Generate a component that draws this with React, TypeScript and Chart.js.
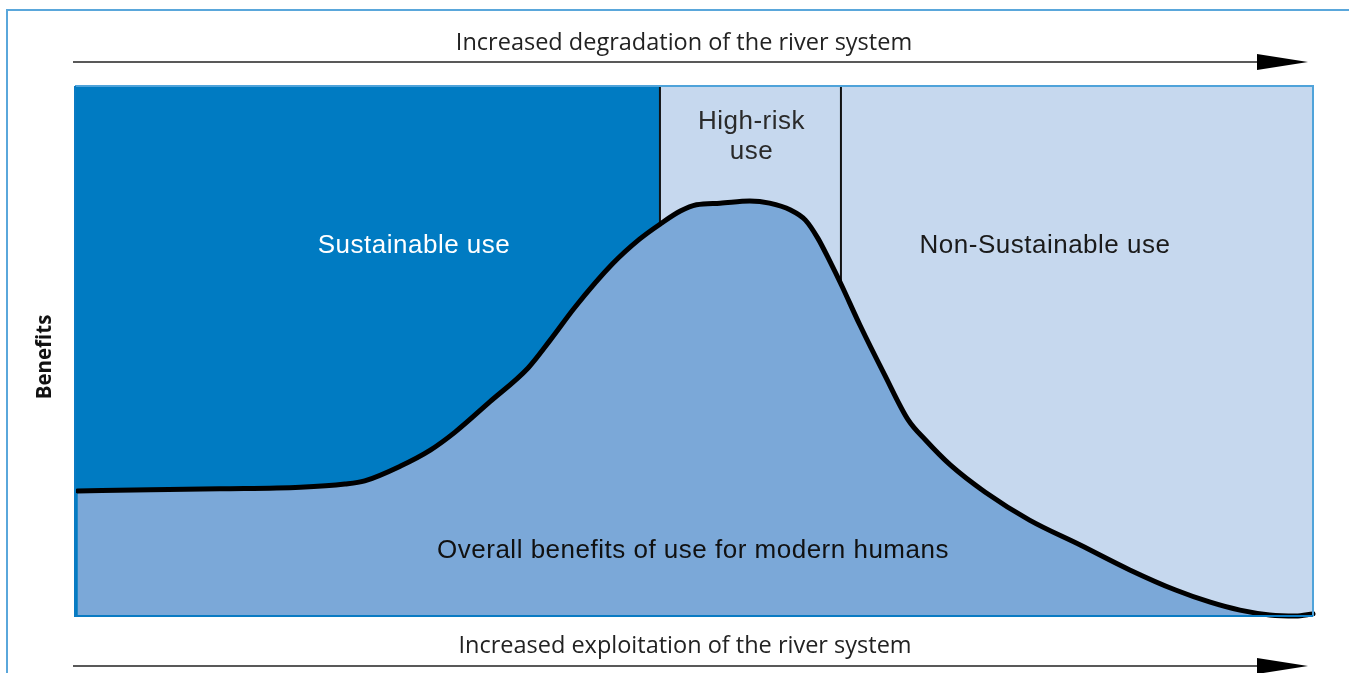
import React, { useEffect, useRef } from "react";
import { Chart, registerables } from "chart.js";

Chart.register(...registerables);

// Curve: x = position along exploitation axis (0-100), y = benefits (0-100)
const curveX = [0.2, 6.1, 11.7, 18.2, 21.8, 23.4, 26.3, 28.7, 30.7, 33.5, 36.6, 38.4, 40.4, 43.4, 45.6, 47.3, 48.9, 50.2, 52.1, 54.5, 56.1, 57.8, 59.0, 60.0, 61.0, 61.9, 63.4, 65.4, 67.3, 68.7, 70.7, 73.5, 77.1, 81.2, 85.2, 88.9, 91.7, 94.1, 96.5, 98.6, 100];
const curveY = [23.6, 23.8, 24.0, 24.3, 24.9, 25.5, 28.3, 31.3, 34.7, 40.4, 46.8, 52.1, 58.3, 66.4, 71.1, 74.0, 76.4, 77.6, 77.9, 78.3, 77.9, 76.6, 74.7, 71.3, 66.8, 62.5, 54.9, 45.5, 37.0, 33.2, 28.5, 23.4, 18.1, 13.4, 8.7, 4.9, 2.6, 1.1, 0.2, 0.0, 0.4];

// Region boundaries along the x axis
const regionBounds = [47.25, 61.87];
const regionNames = ["Sustainable use", "High-risk use", "Non-Sustainable use"];

const topCaption = "Increased degradation of the river system";
const bottomCaption = "Increased exploitation of the river system";
const yAxisTitle = "Benefits";
const areaLabel = "Overall benefits of use for modern humans";

const DARK = "#007BC2";
const LIGHT = "#C6D8EE";
const FILL = "#7BA8D8";

const decorPlugin = {
  id: "decor",
  beforeDatasetsDraw(chart: any) {
    const { ctx, chartArea: a, scales } = chart;
    const xs = scales.x;
    const xb1 = xs.getPixelForValue(regionBounds[0]);
    const xb2 = xs.getPixelForValue(regionBounds[1]);
    ctx.save();
    ctx.fillStyle = DARK;
    ctx.fillRect(a.left, a.top, xb1 - a.left, a.bottom - a.top);
    ctx.fillStyle = LIGHT;
    ctx.fillRect(xb1, a.top, a.right - xb1, a.bottom - a.top);
    ctx.strokeStyle = "#111";
    ctx.lineWidth = 2;
    [xb1, xb2].forEach((x) => {
      ctx.beginPath();
      ctx.moveTo(x, a.top);
      ctx.lineTo(x, a.bottom);
      ctx.stroke();
    });
    // region labels
    ctx.font = "26px 'Liberation Sans', Arial, sans-serif";
    (ctx as any).letterSpacing = "0.5px";
    ctx.textAlign = "center";
    ctx.textBaseline = "middle";
    ctx.fillStyle = "#ffffff";
    ctx.fillText(regionNames[0], 414, 246);
    ctx.fillStyle = "#2a2a2a";
    ctx.fillText("High-risk", (xb1 + xb2) / 2 + 1, 122);
    ctx.fillText("use", (xb1 + xb2) / 2 + 1, 152);
    ctx.fillStyle = "#1a1a1a";
    ctx.fillText(regionNames[2], 1045, 246);
    ctx.restore();
  },
  afterDatasetsDraw(chart: any) {
    const { ctx, chartArea: a, width, height } = chart;
    ctx.save();
    // plot border
    ctx.lineWidth = 2;
    ctx.strokeStyle = "#4FA3DA";
    ctx.beginPath();
    ctx.moveTo(a.left, a.top);
    ctx.lineTo(a.right, a.top);
    ctx.lineTo(a.right, a.bottom);
    ctx.stroke();
    ctx.strokeStyle = "#0A7BC3";
    ctx.beginPath();
    ctx.moveTo(a.left, a.top);
    ctx.lineTo(a.left, a.bottom);
    ctx.lineTo(a.right, a.bottom);
    ctx.stroke();
    // outer frame
    ctx.strokeStyle = "#5AA7DB";
    ctx.lineWidth = 2;
    ctx.beginPath();
    ctx.moveTo(7, height + 5);
    ctx.lineTo(7, 10);
    ctx.lineTo(width + 5, 10);
    ctx.stroke();
    // area label
    ctx.font = "26px 'Liberation Sans', Arial, sans-serif";
    (ctx as any).letterSpacing = "0.5px";
    ctx.textAlign = "center";
    ctx.textBaseline = "middle";
    ctx.fillStyle = "#111";
    ctx.fillText(areaLabel, 693, 551);
    // captions
    (ctx as any).letterSpacing = "0px";
    ctx.font = "23.5px 'Open Sans', 'Noto Sans', sans-serif";
    ctx.fillStyle = "#222";
    ctx.fillText(topCaption, 684, 43);
    ctx.fillText(bottomCaption, 685, 646);
    // arrows
    const arrow = (y: number) => {
      ctx.strokeStyle = "#222";
      ctx.lineWidth = 1.5;
      ctx.beginPath();
      ctx.moveTo(73, y);
      ctx.lineTo(1260, y);
      ctx.stroke();
      ctx.fillStyle = "#000";
      ctx.beginPath();
      ctx.moveTo(1257, y - 8);
      ctx.lineTo(1308, y);
      ctx.lineTo(1257, y + 8);
      ctx.closePath();
      ctx.fill();
    };
    arrow(62);
    arrow(666);
    // y title
    ctx.translate(45, 357);
    ctx.rotate(-Math.PI / 2);
    ctx.font = "bold 20.5px 'Open Sans', 'Noto Sans', sans-serif";
    ctx.fillStyle = "#111";
    ctx.fillText(yAxisTitle, 0, 0);
    ctx.restore();
  },
};

export default function App() {
  const ref = useRef<HTMLCanvasElement>(null);
  useEffect(() => {
    document.body.style.margin = "0";
    const chart = new Chart(ref.current!, {
      type: "line",
      data: {
        datasets: [
          {
            data: curveX.map((x, i) => ({ x, y: curveY[i] })),
            borderColor: "#000",
            borderWidth: 5,
            backgroundColor: FILL,
            fill: "origin",
            tension: 0.35,
            cubicInterpolationMode: "monotone",
            pointRadius: 0,
            borderCapStyle: "round",
            borderJoinStyle: "round",
            clip: false,
          } as any,
        ],
      },
      options: {
        animation: false,
        responsive: false,
        maintainAspectRatio: false,
        layout: { padding: { left: 75, right: 36, top: 86, bottom: 57 } },
        plugins: { legend: { display: false }, tooltip: { enabled: false } },
        scales: {
          x: { type: "linear", min: 0, max: 100, display: false },
          y: { type: "linear", min: 0, max: 100, display: false },
        },
      },
      plugins: [decorPlugin],
    });
    return () => chart.destroy();
  }, []);
  return (
    <div style={{ width: 1349, height: 673, background: "#fff" }}>
      <canvas ref={ref} width={1349} height={673} />
    </div>
  );
}
